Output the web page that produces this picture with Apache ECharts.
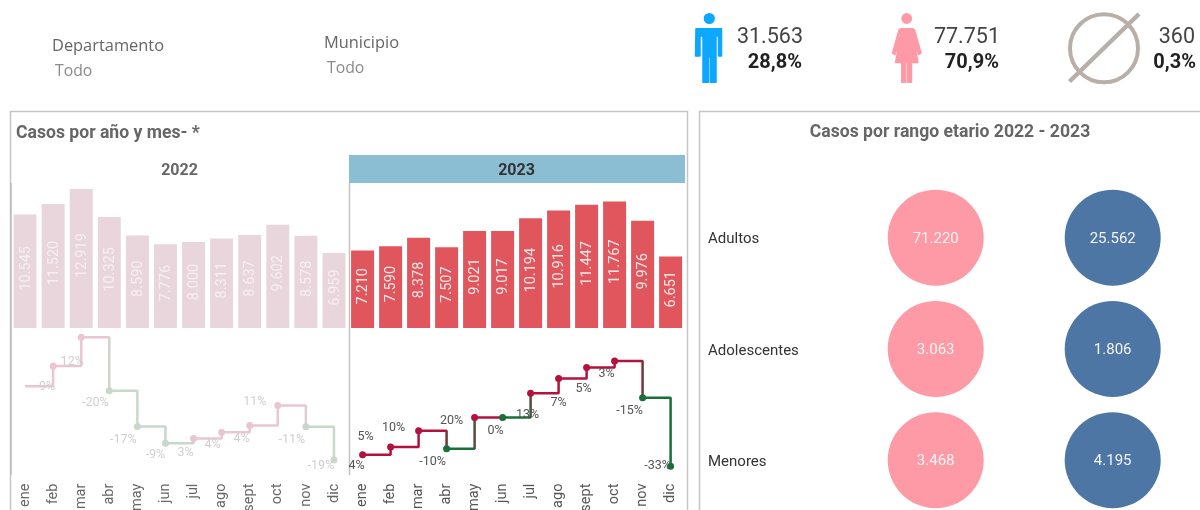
<!DOCTYPE html>
<html>
<head>
<meta charset="utf-8">
<style>html,body{margin:0;padding:0;background:#fff;overflow:hidden}#c{width:1200px;height:510px}</style>
<script src="https://cdn.jsdelivr.net/npm/echarts@6/dist/echarts.min.js"></script>
</head>
<body>
<div id="c"></div>
<script>
const months = ['ene','feb','mar','abr','may','jun','jul','ago','sept','oct','nov','dic'];
const cases2022 = [10545,11520,12919,10325,8590,7776,8000,8311,8637,9602,8578,6959];
const cases2023 = [7210,7590,8378,7507,9021,9017,10194,10916,11447,11767,9976,6651];
const change2022 = [null,9,12,-20,-17,-9,3,4,4,11,-11,-19];
const change2023 = [4,5,10,-10,20,0,13,7,5,3,-15,-33];
const trend2022 = [1,1,1,-1,-1,-1,1,1,1,1,-1,-1];
const trend2023 = [1,1,1,-1,1,-1,1,1,1,1,-1,-1];
const labelShift2022 = [[0,0],[-6,21],[-9,25],[-14,12],[-14,13],[-10,12],[-8,14],[-9,13],[-8,13],[-23,-4],[-14,13],[-13,6]];
const labelShift2023 = [[-6,11],[-25,-10],[-25,-3],[-14,13],[-23,3],[-7,13],[-3,22],[0,24],[-3,21],[-8,13],[-13,13],[-13,0]];
const ageGroups = ['Adultos','Adolescentes','Menores'];
const sexes = ['Mujeres','Hombres'];
const women = [71220,3063,3468];
const men = [25562,1806,4195];
const totals = [['31.563','28,8%'],['77.751','70,9%'],['360','0,3%']];

const F = 'Roboto, sans-serif';
const FS = '"Open Sans", sans-serif';
const fmt = v => String(v).replace(/\B(?=(\d{3})+$)/g, '.');
const PANEL = '#c6c6c6', DIV = '#c2c2c2';

function barSeries(data, i, fill, text) {
  return {type:'bar', xAxisIndex:i, yAxisIndex:i, data, barWidth:23, silent:true,
    itemStyle:{color:fill},
    label:{show:true, position:'inside', rotate:90, offset:[3,1], color:text, fontFamily:F, fontSize:14.5,
      formatter:p => fmt(p.value)}};
}
function lineSeries(data, change, shift, i, textColor) {
  return {type:'line', step:'end', xAxisIndex:i, yAxisIndex:i, clip:false, silent:true,
    showAllSymbol:true, symbol:'circle',
    symbolSize:(v,p) => change[p.dataIndex] === null ? 0 : 7,
    lineStyle:{width:2.5},
    data:data.map((v,k) => ({value:v, label:{show:change[k] !== null, position:'inside', offset:shift[k],
      formatter:change[k] + '%', color:textColor, fontFamily:F, fontSize:12.5}}))};
}
function trendMap(trend, seriesIndex, up, down) {
  return {type:'piecewise', show:false, dimension:0, seriesIndex,
    pieces:trend.map((t,k) => ({gte:k, lt:k+1, color:t > 0 ? up : down}))};
}
function bubbleSeries(values, sexIdx, color) {
  return {type:'scatter', xAxisIndex:4, yAxisIndex:4, clip:false, silent:true, symbolSize:96,
    itemStyle:{color, opacity:1},
    label:{show:true, position:'inside', offset:[0,1.5], color:'#f4f4f6', fontFamily:F, fontSize:15,
      formatter:p => fmt(p.value[2])},
    data:values.map((v,k) => [sexes[sexIdx], ageGroups[k], v])};
}
const txt = (text,x,y,font,fill,align='left') => ({type:'text', silent:true, x, y,
  style:{text, x:0, y:0, font, fill, align, verticalAlign:'middle'}});
const vline = (x,y1,y2,stroke,lineWidth=1.5) => ({type:'line', silent:true,
  shape:{x1:x,y1,x2:x,y2}, style:{stroke,lineWidth}});
const icon = (points, fill) => ({type:'polygon', silent:true, shape:{points},
  style:{fill, stroke:fill, lineWidth:1.5, lineJoin:'round'}});

const MAN = [[696,28.7],[721.5,28.7],[721.5,56],[718.5,56],[718.5,36],[716,36],[716,82.3],[710.3,82.3],[710.3,57],[708.3,57],[708.3,82.3],[703,82.3],[703,36],[700,36],[700,56],[695.5,56]];
const WOMAN = [[901,28.7],[912.5,28.7],[914.5,30],[921,53],[918.5,54.5],[913,38],[918,62.5],[911.5,62.5],[911.5,82.3],[907.8,82.3],[907.8,62.5],[905.8,62.5],[905.8,82.3],[901.8,82.3],[901.8,62.5],[895.5,62.5],[900.5,38],[895,54.5],[892.5,53],[899,30]];

const option = {
  animation:false,
  backgroundColor:'#fff',
  grid:[
    {left:11,   top:180,   width:337, height:148, outerBoundsMode:'none'},
    {left:348.6,top:180,   width:336, height:148, outerBoundsMode:'none'},
    {left:11,   top:335.6, width:337, height:140, outerBoundsMode:'none'},
    {left:348.6,top:335.6, width:336, height:140, outerBoundsMode:'none'},
    {left:935.7,top:237.7, width:177, height:222.5, outerBoundsMode:'none'}
  ],
  xAxis:[0,1,2,3].map(i => ({type:'category', gridIndex:i, data:months,
    axisLine:{show:false}, axisTick:{show:false},
    axisLabel:{show:i >= 2, rotate:90, margin:8, color:i === 2 ? '#666' : '#555', fontFamily:F, fontSize:14.5, interval:0}}))
    .concat([{type:'category', gridIndex:4, data:sexes, boundaryGap:false, show:false}]),
  yAxis:[
    {type:'value', gridIndex:0, min:0, max:13754, show:false},
    {type:'value', gridIndex:1, min:0, max:13754, show:false},
    {type:'value', gridIndex:2, min:6200, max:13000, show:false},
    {type:'value', gridIndex:3, min:6200, max:13000, show:false},
    {type:'category', gridIndex:4, data:ageGroups, inverse:true, boundaryGap:false,
      axisLine:{show:false}, axisTick:{show:false}, splitLine:{show:false},
      axisLabel:{align:'left', verticalAlign:'top', lineHeight:4, margin:227.7, color:'#333', fontFamily:F, fontSize:15}}
  ],
  visualMap:[
    trendMap(trend2022, 2, '#e9c6d2', '#c8d8cc'),
    trendMap(trend2023, 3, '#b3123f', '#177038')
  ],
  series:[
    barSeries(cases2022, 0, '#e8d6dc', '#f6eff1'),
    barSeries(cases2023, 1, '#e0565c', '#fbe6e7'),
    lineSeries(cases2022, change2022, labelShift2022, 2, '#d0d0d0'),
    lineSeries(cases2023, change2023, labelShift2023, 3, '#555'),
    bubbleSeries(women, 0, '#fe9aa5'),
    bubbleSeries(men, 1, '#4d76a5')
  ],
  graphic:[
    {type:'rect', silent:true, z:-1, shape:{x:10.5,y:111.5,width:677,height:420}, style:{fill:'#fff',stroke:PANEL,lineWidth:1.5}},
    {type:'rect', silent:true, z:-1, shape:{x:699.5,y:111.5,width:520,height:420}, style:{fill:'#fff',stroke:PANEL,lineWidth:1.5}},
    {type:'rect', silent:true, z:-1, shape:{x:349,y:155,width:336,height:28}, style:{fill:'#8bbed3'}},
    vline(11,183,475,'#bdbdbd'), vline(349.5,183,475,DIV),
    txt('Casos por año y mes- *',16,133.5,'bold 17.6px '+F,'#666'),
    txt('2022',179.5,171,'bold 16px '+F,'#666','center'),
    txt('2023',516.5,171,'bold 16px '+F,'#333','center'),
    txt('Casos por rango etario 2022 - 2023',950,133,'bold 17.6px '+F,'#666','center'),
    txt('Departamento',52,46.5,'16.4px '+FS,'#666'),
    txt('Todo',55,71,'15.8px '+FS,'#8a8a8a'),
    txt('Municipio',324,43.5,'16.4px '+FS,'#666'),
    txt('Todo',327,68,'15.8px '+FS,'#8a8a8a'),
    {type:'circle', silent:true, shape:{cx:709.3,cy:18.5,r:5.6}, style:{fill:'#0ca7ff'}},
    icon(MAN,'#0ca7ff'),
    {type:'circle', silent:true, shape:{cx:906.7,cy:18.5,r:5.4}, style:{fill:'#fe9aa5'}},
    icon(WOMAN,'#fe9aa5'),
    {type:'circle', silent:true, shape:{cx:1104,cy:48.3,r:34}, style:{fill:'none',stroke:'#b9afa9',lineWidth:4}},
    {type:'line', silent:true, shape:{x1:1069.5,y1:81.5,x2:1139,y2:14}, style:{stroke:'#b9afa9',lineWidth:4.5}},
    txt(totals[0][0],803,38,'21.5px '+F,'#444','right'),
    txt(totals[0][1],802,63,'bold 20px '+F,'#222','right'),
    txt(totals[1][0],1000,38,'21.5px '+F,'#444','right'),
    txt(totals[1][1],999,63,'bold 20px '+F,'#222','right'),
    txt(totals[2][0],1195,38,'21.5px '+F,'#444','right'),
    txt(totals[2][1],1196,63,'bold 20px '+F,'#222','right')
  ]
};
echarts.init(document.getElementById('c'), null, {renderer:'canvas'}).setOption(option);
</script>
</body>
</html>
